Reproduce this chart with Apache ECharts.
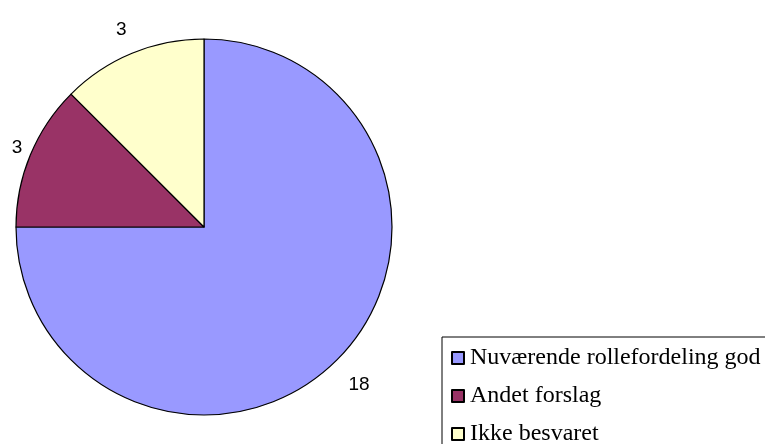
<!DOCTYPE html>
<html>
<head>
<meta charset="utf-8">
<script src="https://cdn.jsdelivr.net/npm/echarts@6/dist/echarts.min.js"></script>
<style>
  html, body { margin: 0; padding: 0; background: #ffffff; }
  #chart { width: 765px; height: 444px; }
</style>
</head>
<body>
<div id="chart"></div>
<script>
  // data
  let names = ['Nuværende rollefordeling god', 'Andet forslag', 'Ikke besvaret']
  let values = [18, 3, 3]
  let colors = ['#9999FF', '#993366', '#FFFFCC']

  // label nudges so the numbers sit where the original puts them
  let labelShift = [[-2, 16], [8, -3], [4, -12]]

  let pieData = []
  for (let i in names) {
    pieData.push({
      name: names[i],
      value: values[i],
      itemStyle: { color: colors[i] }
    })
  }

  let myChart = echarts.init(document.getElementById('chart'))
  let option = {
    backgroundColor: '#ffffff',
    animation: false,
    legend: {
      orient: 'vertical',
      left: 442,
      top: 337,
      height: 300,
      padding: [9, 40, 30, 9],
      borderColor: '#000000',
      borderWidth: 1,
      itemWidth: 12,
      itemHeight: 12,
      itemGap: 14,
      icon: 'rect',
      textStyle: {
        fontFamily: 'Liberation Serif',
        fontSize: 24,
        color: '#000000',
        padding: [0, 0, 0, 1]
      },
      data: names
    },
    series: [
      {
        type: 'pie',
        center: [204, 227],
        radius: 188,
        startAngle: 90,
        clockwise: true,
        avoidLabelOverlap: false,
        itemStyle: {
          borderColor: '#000000',
          borderWidth: 1.2
        },
        label: {
          show: true,
          position: 'outside',
          formatter: '{c}',
          fontFamily: 'Liberation Sans',
          fontSize: 19,
          color: '#000000'
        },
        labelLine: {
          show: false,
          length: 12,
          length2: 0
        },
        labelLayout: function (p) {
          let s = labelShift[p.dataIndex]
          return { dx: s[0], dy: s[1] }
        },
        emphasis: { disabled: true },
        data: pieData
      }
    ]
  }
  myChart.setOption(option)
</script>
</body>
</html>
